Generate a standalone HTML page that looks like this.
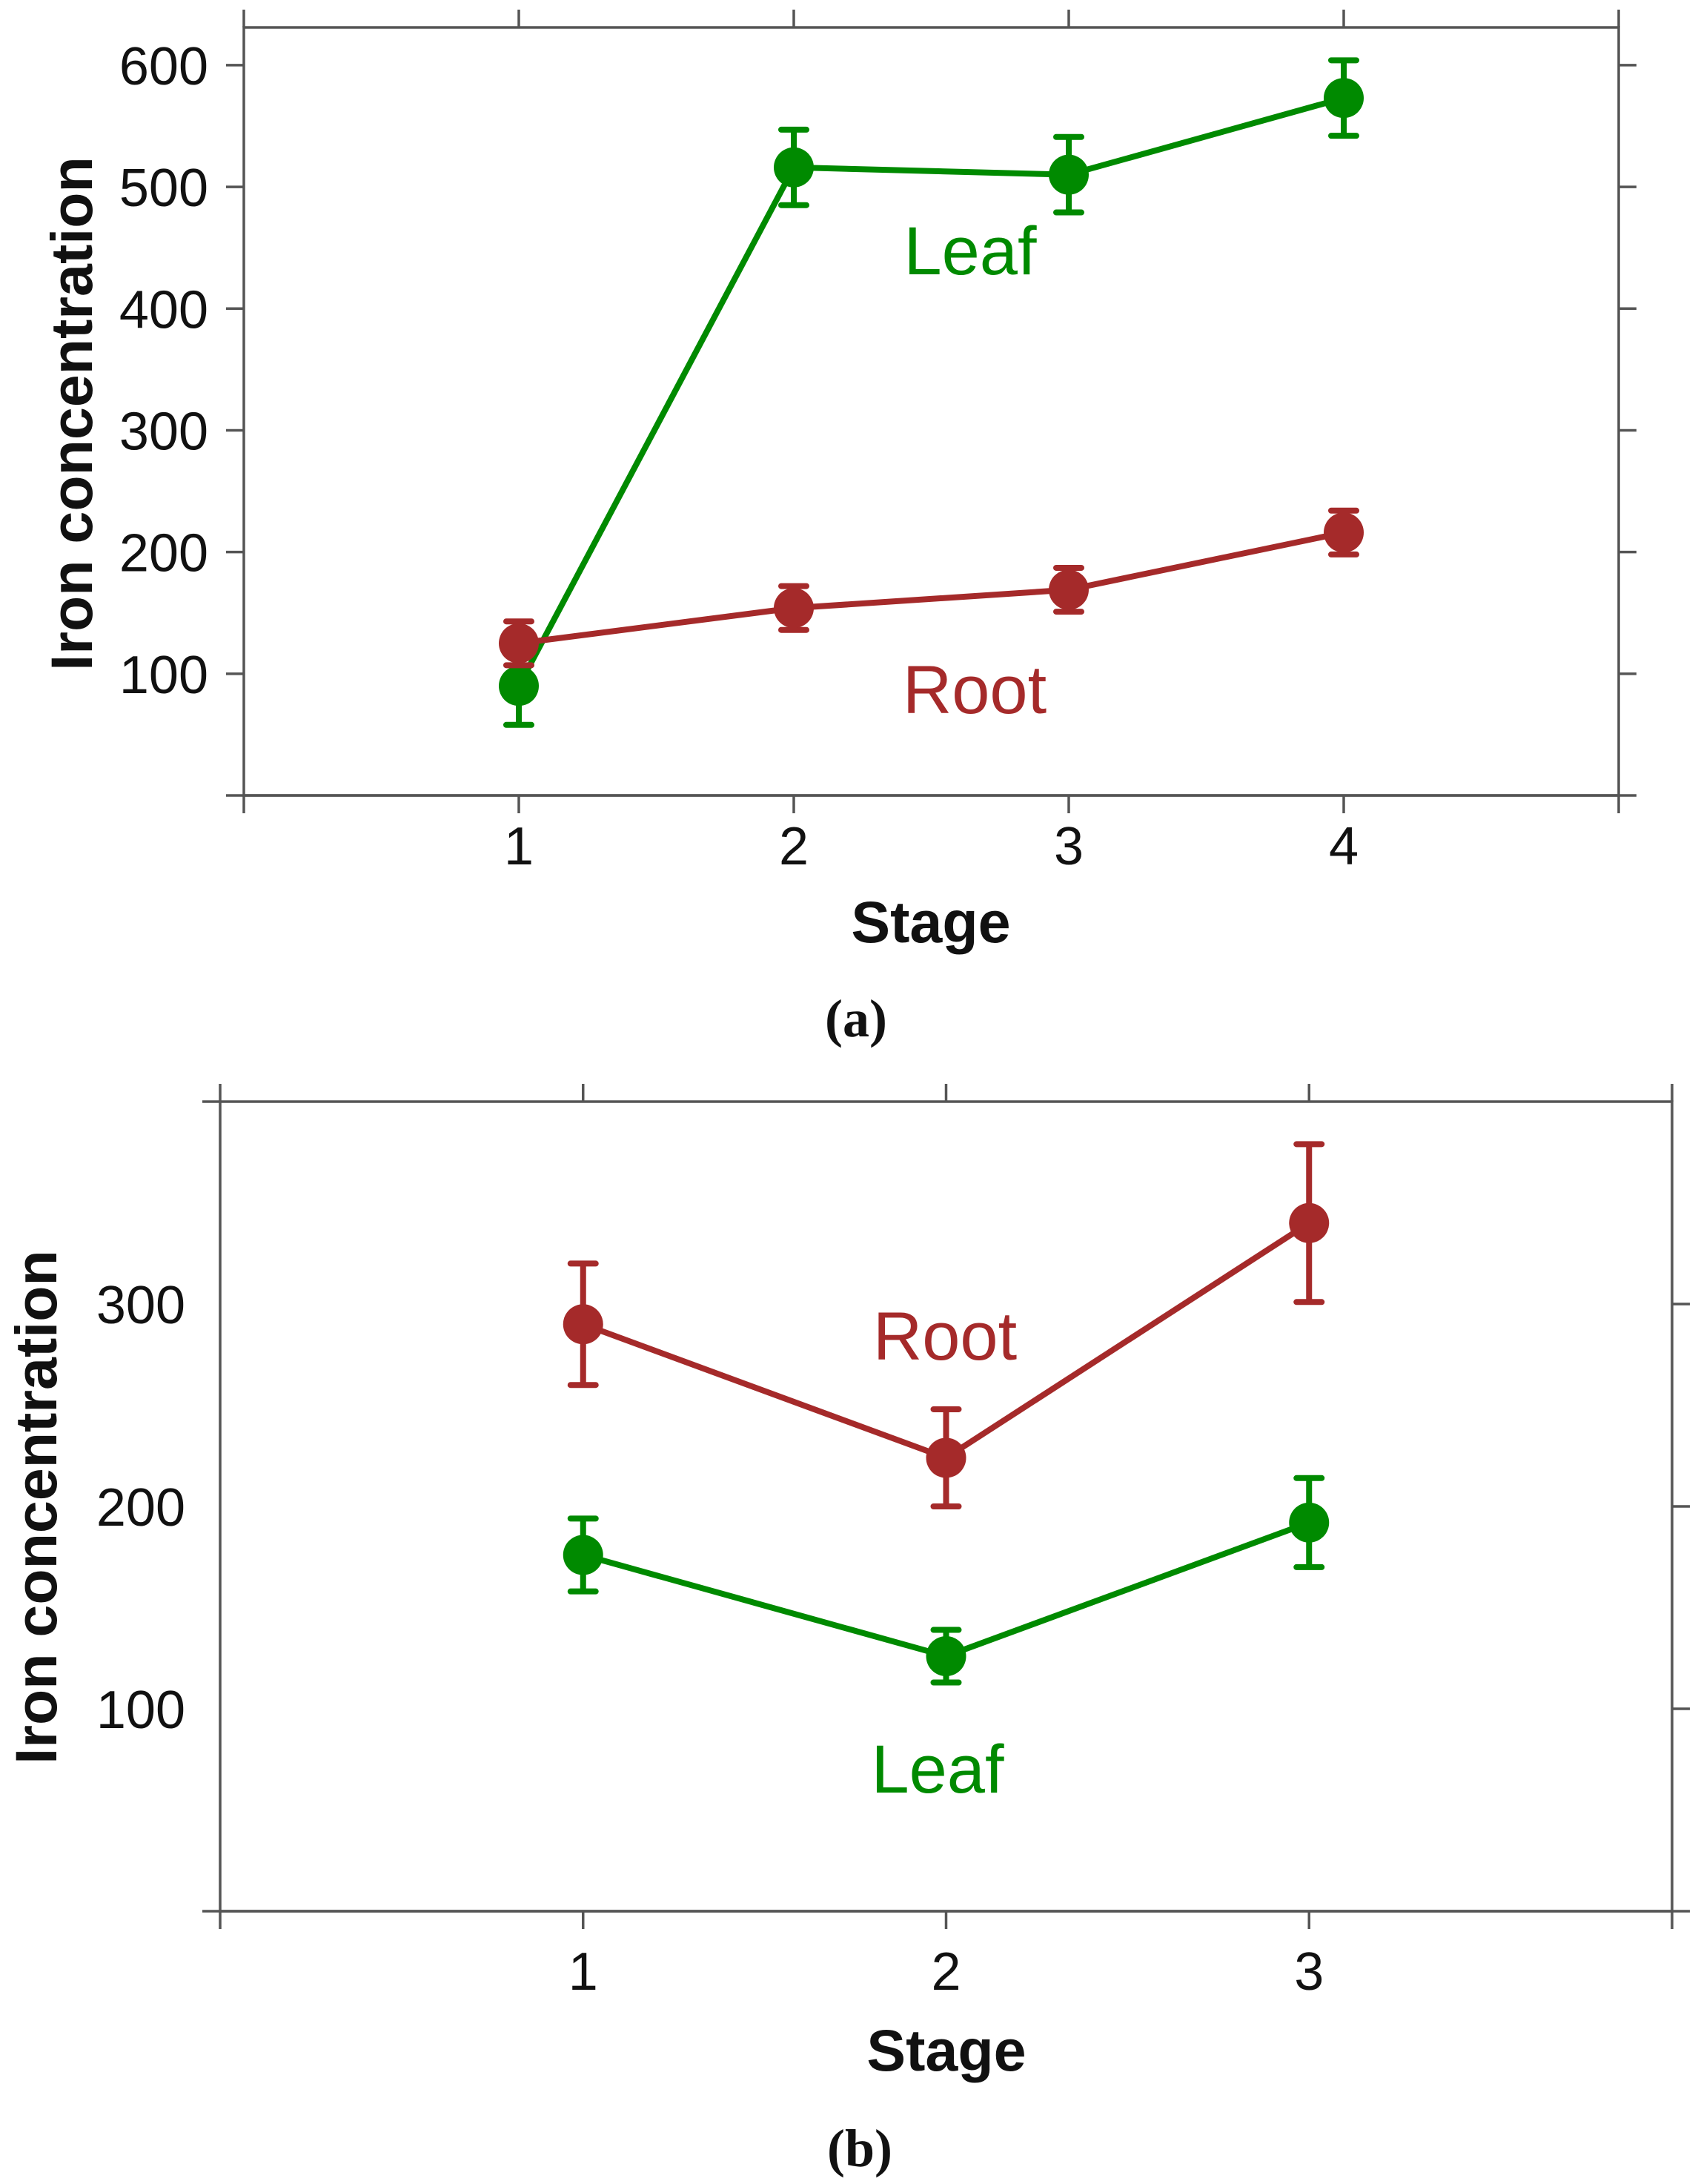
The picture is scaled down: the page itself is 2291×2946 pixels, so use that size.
<!DOCTYPE html>
<html><head><meta charset="utf-8">
<style>
html,body{margin:0;padding:0;background:#fff;}
svg{display:block;}
text{font-family:"Liberation Sans",sans-serif;fill:#111;}
</style></head>
<body>
<svg id="chart" width="2291" height="2946" viewBox="0 0 2291 2946" xmlns="http://www.w3.org/2000/svg">
<rect x="0" y="0" width="2291" height="2946" fill="#fff"/>
</svg>
<script>
// Panel (a) data
const stagesA = [1, 2, 3, 4];
const leafA = [90, 516, 510, 573];
const leafErrA = [32, 31, 31, 31];
const rootA = [125, 154, 169, 216];
const rootErrA = [18, 18, 18, 18];
const yTicksA = [100, 200, 300, 400, 500, 600];
// Panel (b) data
const stagesB = [1, 2, 3];
const leafB = [176, 126, 192];
const leafErrB = [18, 13, 22];
const rootB = [290, 224, 340];
const rootErrB = [30, 24, 39];
const yTicksB = [100, 200, 300];

const NS = 'http://www.w3.org/2000/svg';
const svg = document.getElementById('chart');
const GREEN = '#008a00', RED = '#a52a2a', AX = '#555';

function mk(tag, attrs, parent) {
  const e = document.createElementNS(NS, tag);
  for (const k in attrs) e.setAttribute(k, attrs[k]);
  (parent || svg).appendChild(e);
  return e;
}

function panel(cfg) {
  const g = mk('g', {});
  
  
  const xs = v => cfg.L + (v - cfg.xmin) / (cfg.xmax - cfg.xmin) * (cfg.R - cfg.L);
  const ys = v => cfg.B - (v - cfg.ymin) / (cfg.ymax - cfg.ymin) * (cfg.B - cfg.T);
  const fr = mk('rect', {x: cfg.L, y: cfg.T, width: cfg.R - cfg.L, height: cfg.B - cfg.T, fill: 'none', stroke: AX, 'stroke-width': 3.5}, g);
  
  
  for (let v = cfg.xmin; v <= cfg.xmax; v++) {
    const x = xs(v);
    mk('line', {x1: x, y1: cfg.T - 24, x2: x, y2: cfg.T, stroke: AX, 'stroke-width': 3.5}, g);
    mk('line', {x1: x, y1: cfg.B, x2: x, y2: cfg.B + 24, stroke: AX, 'stroke-width': 3.5}, g);
  }
  mk('line', {x1: cfg.L - 24, y1: cfg.B, x2: cfg.R + 24, y2: cfg.B, stroke: AX, 'stroke-width': 3.5}, g);
  if (cfg.topExt) mk('line', {x1: cfg.L - 24, y1: cfg.T, x2: cfg.L, y2: cfg.T, stroke: AX, 'stroke-width': 3.5}, g);
  cfg.stages.forEach(s => {
    const t = mk('text', {x: xs(s), y: cfg.xLabY, 'font-size': 72, 'text-anchor': 'middle'}, g);
    t.textContent = s;
    
    
  });
  cfg.yTicks.forEach(v => {
    const y = ys(v);
    if (cfg.leftTicks) mk('line', {x1: cfg.L - 24, y1: y, x2: cfg.L, y2: y, stroke: AX, 'stroke-width': 3.5}, g);
    mk('line', {x1: cfg.R, y1: y, x2: cfg.R + 24, y2: y, stroke: AX, 'stroke-width': 3.5}, g);
    const t = mk('text', {x: cfg.yLabX, y: y + 26, 'font-size': 72, 'text-anchor': 'end'}, g);
    t.textContent = v;
    
    
  });
  const yt = mk('text', {x: 0, y: 0, 'font-size': 79, 'font-weight': 'bold', 'text-anchor': 'middle',
    transform: `translate(${cfg.yTitleX},${cfg.yTitleY}) rotate(-90)`}, g);
  yt.textContent = 'Iron concentration';
  
  
  const xt = mk('text', {x: cfg.xTitleX, y: cfg.xTitleY, 'font-size': 79, 'font-weight': 'bold', 'text-anchor': 'middle'}, g);
  xt.textContent = 'Stage';
  
  
  const cap = mk('text', {x: cfg.capX, y: cfg.capY, 'font-size': 72, 'font-weight': 'bold', 'text-anchor': 'middle', style: 'font-family:"Liberation Serif",serif'}, g);
  cap.textContent = cfg.cap;
  
  

  cfg.series.forEach(sr => {
    const sg = mk('g', {}, g);
    
    
    const pts = cfg.stages.map((s, i) => xs(s) + ',' + ys(sr.vals[i])).join(' ');
    const pl = mk('polyline', {points: pts, fill: 'none', stroke: sr.color, 'stroke-width': 8}, sg);
    
    
    cfg.stages.forEach((s, i) => {
      const x = xs(s), y1 = ys(sr.vals[i] + sr.err[i]), y2 = ys(sr.vals[i] - sr.err[i]);
      const eb = mk('path', {d: `M${x},${y1}V${y2}M${x - 17},${y1}H${x + 17}M${x - 17},${y2}H${x + 17}`,
        stroke: sr.color, 'stroke-width': 8, 'stroke-linecap': 'round', fill: 'none'}, sg);
      
      
      const c = mk('circle', {cx: x, cy: ys(sr.vals[i]), r: 27, fill: sr.color}, sg);
      
      
    });
    const lb = mk('text', {x: sr.lx, y: sr.ly, 'font-size': 92, 'text-anchor': 'middle', style: 'fill:' + sr.color}, sg);
    lb.textContent = sr.label;
    
    
  });
}

panel({name: 'panel-a', L: 329, R: 2184, T: 37, B: 1073, xmin: 0, xmax: 5, ymin: 0, ymax: 631,
  stages: stagesA, yTicks: yTicksA, xLabY: 1166, yLabX: 281, leftTicks: true, topExt: false,
  yTitleX: 124, yTitleY: 558,
  xTitleX: 1256, xTitleY: 1271, cap: '(a)', capX: 1155, capY: 1398,
  series: [
    {name: 'leaf', label: 'Leaf', color: GREEN, vals: leafA, err: leafErrA, lx: 1309, ly: 370},
    {name: 'root', label: 'Root', color: RED, vals: rootA, err: rootErrA, lx: 1315, ly: 962}
  ]});

panel({name: 'panel-b', L: 297, R: 2256, T: 1486, B: 2578, xmin: 0, xmax: 4, ymin: 0, ymax: 400,
  stages: stagesB, yTicks: yTicksB, xLabY: 2684, yLabX: 250, leftTicks: false, topExt: true,
  yTitleX: 76, yTitleY: 2033,
  xTitleX: 1277, xTitleY: 2793, cap: '(b)', capX: 1160, capY: 2922,
  series: [
    {name: 'root', label: 'Root', color: RED, vals: rootB, err: rootErrB, lx: 1275, ly: 1834},
    {name: 'leaf', label: 'Leaf', color: GREEN, vals: leafB, err: leafErrB, lx: 1265, ly: 2418}
  ]});
</script>
</body></html>
